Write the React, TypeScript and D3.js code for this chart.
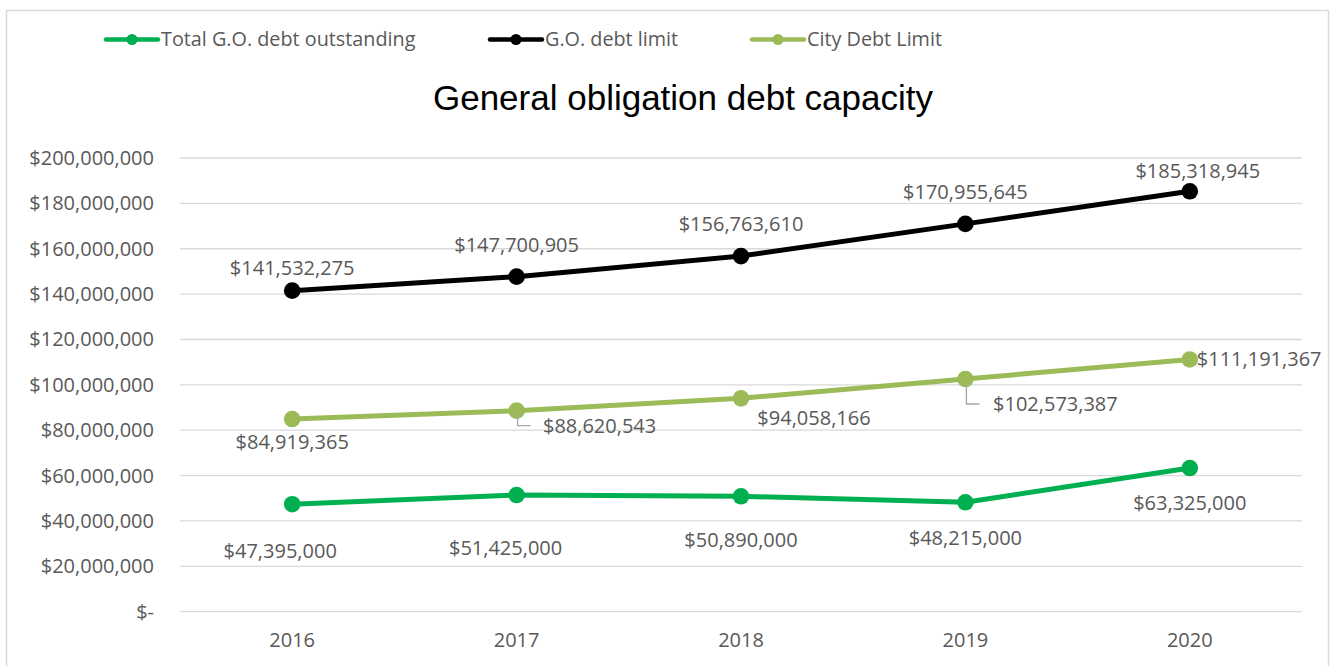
import React from "react";
import * as d3 from "d3";

const years = ["2016", "2017", "2018", "2019", "2020"];
const totalOutstanding = [47395000, 51425000, 50890000, 48215000, 63325000];
const goDebtLimit = [141532275, 147700905, 156763610, 170955645, 185318945];
const cityDebtLimit = [84919365, 88620543, 94058166, 102573387, 111191367];
const yTicks = [0, 20000000, 40000000, 60000000, 80000000, 100000000, 120000000, 140000000, 160000000, 180000000, 200000000];
const seriesNames = ["Total G.O. debt outstanding", "G.O. debt limit", "City Debt Limit"];

// label placement offsets (dx, dy from point)
const greenLabelOff = [[-12, 47], [-11, 53], [0, 44], [0, 36], [0, 35]];
const blackLabelOff = [[0, -23], [0, -32], [0, -32], [0, -32], [8, -20]];
const cityLabelOff = [[0, 23], [83, 15], [73, 20], [90, 25], [7, 0]];
const cityLeader = [false, true, false, true, false];

const colors = ["#00b050", "#000000", "#9bbb59"];
const W = 1331, H = 666;
const FONT = "'Open Sans', sans-serif";
const TXT = "#595959";
const FS = 20;

export default function App() {
  const x = d3.scaleBand().domain(years).range([180, 1302]);
  const y = d3.scaleLinear().domain([0, 200000000]).range([611.7, 158]);
  const cx = (i: number) => (x(years[i]) as number) + x.bandwidth() / 2;
  const fmt = (v: number) => (v === 0 ? "$-" : "$" + d3.format(",")(v));
  const line = d3.line<number>().x((_, i) => cx(i)).y((v) => y(v));
  const series = [totalOutstanding, goDebtLimit, cityDebtLimit];
  const legendX = [106, 490, 752];

  return (
    <svg width={W} height={H} style={{ position: "absolute", left: 0, top: 0, display: "block" }} fontFamily={FONT}>
      <rect x={0} y={0} width={W} height={H} fill="#fff" />
      <rect x={6.5} y={10.5} width={1322} height={700} fill="#fff" stroke="#d9d9d9" strokeWidth={1.5} />
      {/* legend */}
      {seriesNames.map((n, i) => (
        <g key={n}>
          <line x1={legendX[i]} x2={legendX[i] + 52} y1={39.5} y2={39.5} stroke={colors[i]} strokeWidth={4.5} strokeLinecap="round" />
          <circle cx={legendX[i] + 26} cy={39.5} r={5.5} fill={colors[i]} />
          <text x={legendX[i] + 55} y={39.5} dy="0.35em" fontSize={19.8} fill={TXT}>{n}</text>
        </g>
      ))}
      <text x={683} y={98} dy="0.35em" textAnchor="middle" fontSize={35} fontFamily="'Liberation Sans', Arial, sans-serif" fill="#000">
        General obligation debt capacity
      </text>
      {/* grid & y axis */}
      {yTicks.map((t) => (
        <g key={t}>
          <line x1={180} x2={1302} y1={y(t)} y2={y(t)} stroke="#d9d9d9" strokeWidth={1.3} />
          <text x={154} y={y(t)} dy="0.35em" textAnchor="end" fontSize={FS} fill={TXT}>{fmt(t)}</text>
        </g>
      ))}
      {years.map((yr, i) => (
        <text key={yr} x={cx(i)} y={640} dy="0.35em" textAnchor="middle" fontSize={FS} fill={TXT}>{yr}</text>
      ))}
      {/* lines */}
      {series.map((s, k) => (
        <g key={k}>
          <path d={line(s) || ""} fill="none" stroke={colors[k]} strokeWidth={5} strokeLinejoin="round" />
          {s.map((v, i) => (
            <circle key={i} cx={cx(i)} cy={y(v)} r={8.3} fill={colors[k]} />
          ))}
        </g>
      ))}
      {/* leader lines */}
      {cityDebtLimit.map((v, i) =>
        cityLeader[i] ? (
          <path key={i} d={`M${cx(i) + 1},${y(v) + 4} V${y(v) + cityLabelOff[i][1]} H${cx(i) + 14}`} fill="none" stroke="#a6a6a6" strokeWidth={1.3} />
        ) : null
      )}
      {/* labels */}
      {goDebtLimit.map((v, i) => (
        <text key={"b" + i} x={cx(i) + blackLabelOff[i][0]} y={y(v) + blackLabelOff[i][1]} dy="0.35em" textAnchor="middle" fontSize={FS} fill={TXT}>{fmt(v)}</text>
      ))}
      {totalOutstanding.map((v, i) => (
        <text key={"g" + i} x={cx(i) + greenLabelOff[i][0]} y={y(v) + greenLabelOff[i][1]} dy="0.35em" textAnchor="middle" fontSize={FS} fill={TXT}>{fmt(v)}</text>
      ))}
      {cityDebtLimit.map((v, i) => (
        <text key={"c" + i} x={cx(i) + cityLabelOff[i][0]} y={y(v) + cityLabelOff[i][1]} dy="0.35em" textAnchor={i === 4 ? "start" : "middle"} fontSize={FS} fill={TXT}>{fmt(v)}</text>
      ))}
    </svg>
  );
}
